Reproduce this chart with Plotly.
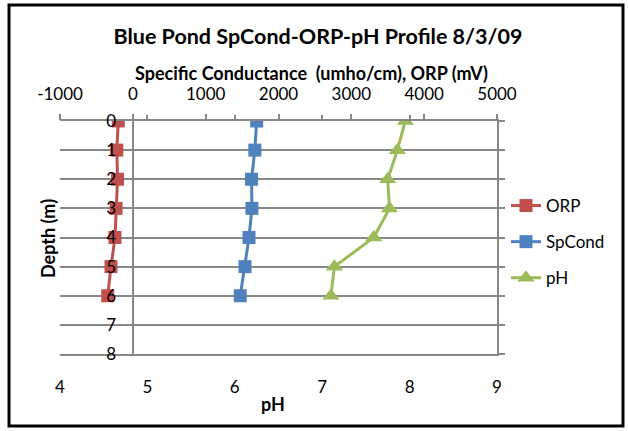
import plotly.graph_objects as go

depth = [0, 1, 2, 3, 4, 5, 6]
orp = [-200, -220, -210, -230, -245, -300, -345]
spcond = [1700, 1675, 1630, 1635, 1595, 1540, 1475]
ph = [7.95, 7.86, 7.75, 7.77, 7.59, 7.14, 7.10]

top_ticks = [-1000, 0, 1000, 2000, 3000, 4000, 5000]
top_labels = ["-1000", "0", "1000", "2000", "3000", "4000", "5000"]
ph_ticks = [4, 5, 6, 7, 8, 9]
depth_ticks = [0, 1, 2, 3, 4, 5, 6, 7, 8]

FONT = "Lato"
GRID = "#878787"
W, H = 628, 431
L, R, T, B = 60, 131, 121, 77
PW, PH = W - L - R, H - T - B


def px(xp):
    return (xp - L) / PW


def py(yp):
    return (H - B - yp) / PH


fig = go.Figure()
fig.add_trace(go.Scatter(x=orp, y=depth, name="ORP", xaxis="x2", yaxis="y",
                         mode="lines+markers", legendgroup="a",
                         line=dict(color="#C0504D", width=3),
                         marker=dict(symbol="square", size=13, color="#C0504D")))
fig.add_trace(go.Scatter(x=spcond, y=depth, name="SpCond", xaxis="x2", yaxis="y",
                         mode="lines+markers", legendgroup="b",
                         line=dict(color="#4F81BD", width=3),
                         marker=dict(symbol="square", size=13, color="#4F81BD")))
fig.add_trace(go.Scatter(x=ph, y=depth, name="pH", xaxis="x", yaxis="y",
                         mode="lines+markers", legendgroup="c",
                         line=dict(color="#9BBB59", width=3),
                         marker=dict(symbol="triangle-up", size=15, color="#9BBB59")))
# invisible helpers for tick-only axes
fig.add_trace(go.Scatter(x=[None], y=[None], xaxis="x3", yaxis="y", showlegend=False, hoverinfo="skip"))
fig.add_trace(go.Scatter(x=[None], y=[None], xaxis="x", yaxis="y2", showlegend=False, hoverinfo="skip"))

fig.update_layout(
    width=W, height=H,
    margin=dict(l=L, r=R, t=T, b=B),
    paper_bgcolor="white", plot_bgcolor="white",
    font=dict(family=FONT, size=17, color="black"),
    title=dict(text="<b>Blue Pond SpCond-ORP-pH Profile 8/3/09</b>",
               x=318 / W, xanchor="center", y=1 - 36 / H, yanchor="middle",
               font=dict(family=FONT, size=21.5, color="black")),
    xaxis=dict(range=[4, 9], tickvals=ph_ticks, side="bottom", showgrid=False,
               zeroline=False, showline=True, linecolor=GRID, linewidth=2,
               ticks="", ticklabelstandoff=17, anchor="y"),
    xaxis2=dict(range=[-1000, 5000], tickvals=top_ticks, ticktext=top_labels,
                side="top", overlaying="x",
                anchor="y", showgrid=False, zeroline=True, zerolinecolor=GRID,
                zerolinewidth=2, showline=True, linecolor=GRID, linewidth=2,
                ticks="outside", ticklen=5, tickwidth=2, tickcolor=GRID,
                ticklabelstandoff=7),
    xaxis3=dict(range=[4, 9], tickvals=ph_ticks, side="top", overlaying="x",
                anchor="y", showgrid=False, zeroline=False, showline=False,
                ticks="outside", ticklen=5, tickwidth=2, tickcolor=GRID,
                showticklabels=False),
    yaxis=dict(range=[8, 0], tickvals=depth_ticks, showgrid=True, gridcolor=GRID,
               gridwidth=2, zeroline=False, showline=False, ticks="",
               anchor="free", position=px(134), ticklabelstandoff=18),
    yaxis2=dict(range=[8, 0], tickvals=depth_ticks, overlaying="y", side="right",
                anchor="x", showgrid=False, zeroline=False, showline=True,
                linecolor=GRID, linewidth=2, ticks="outside", ticklen=6,
                tickwidth=2, tickcolor=GRID, showticklabels=False),
    legend=dict(x=px(506), y=py(188), xanchor="left", yanchor="top",
                font=dict(family=FONT, size=17), tracegroupgap=11,
                bgcolor="rgba(0,0,0,0)"),
    showlegend=True,
    annotations=[
        dict(text="<b>Specific Conductance  (umho/cm), ORP (mV)</b>", xref="paper", yref="paper",
             x=px(311), y=py(73), showarrow=False, xanchor="center", yanchor="middle",
             font=dict(family=FONT, size=18)),
        dict(text="<b>pH</b>", xref="paper", yref="paper", x=px(273), y=py(404),
             showarrow=False, xanchor="center", yanchor="middle",
             font=dict(family=FONT, size=18)),
        dict(text="<b>Depth (m)</b>", xref="paper", yref="paper", x=px(48), y=py(239),
             showarrow=False, xanchor="center", yanchor="middle", textangle=-90,
             font=dict(family=FONT, size=18)),
    ],
    shapes=[dict(type="rect", xref="paper", yref="paper",
                 x0=px(9), x1=px(623), y0=py(426), y1=py(5),
                 line=dict(color="black", width=3), fillcolor="rgba(0,0,0,0)",
                 layer="below")],
)

fig.write_html("out.html", config={"displayModeBar": False},
               post_script="document.body.style.margin='0';")
